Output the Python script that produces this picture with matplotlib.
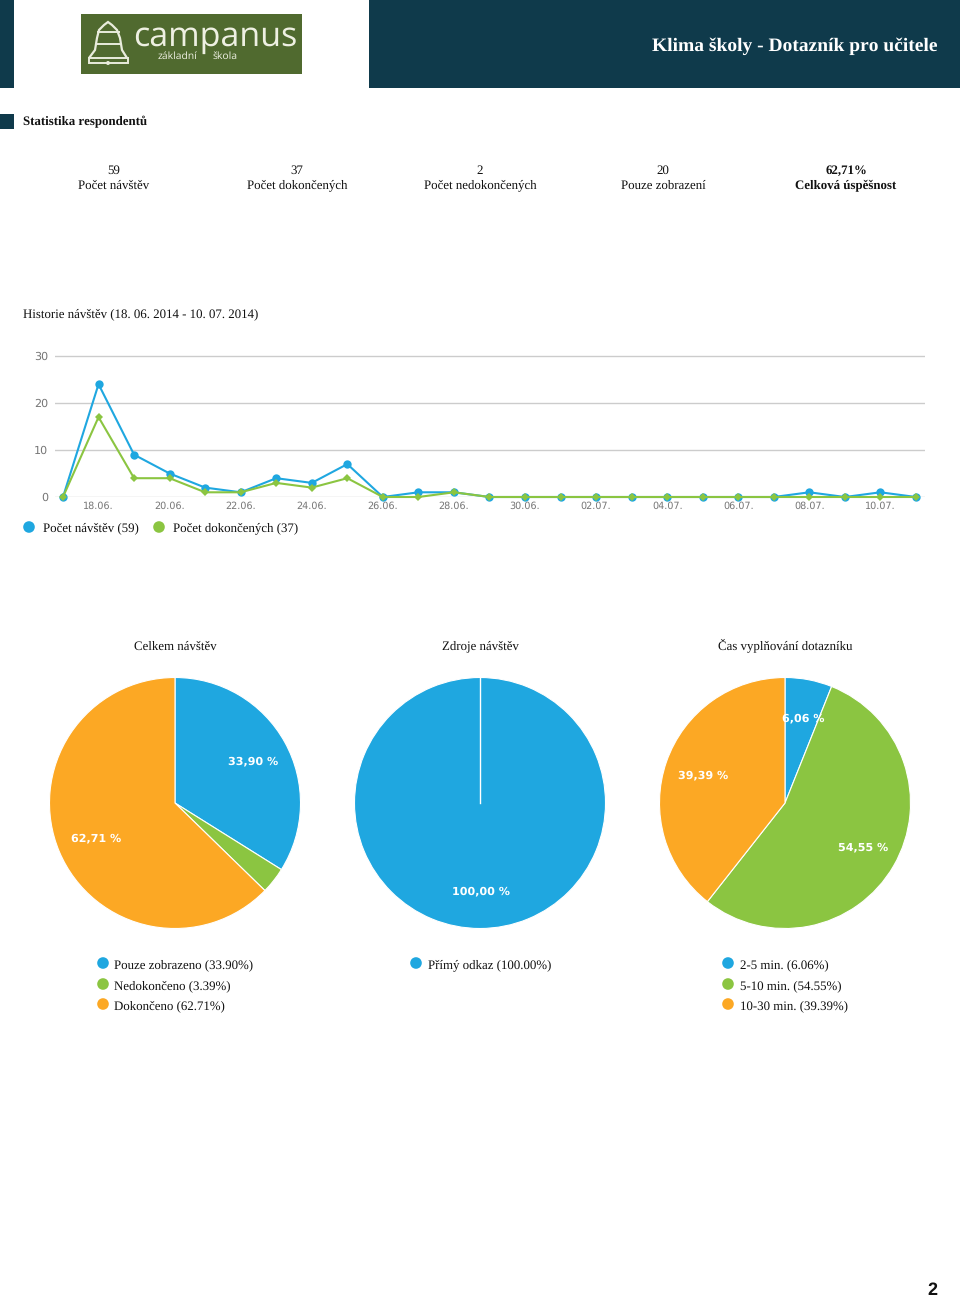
#!/usr/bin/env python3
"""Klima skoly - strana 2 dotazniku: statistika respondentu a grafy."""

import matplotlib
matplotlib.use('Agg')
import matplotlib.pyplot as plt
from matplotlib.patches import Rectangle, Circle, Polygon

plt.rcParams['font.family'] = ['Liberation Serif', 'DejaVu Serif']
plt.rcParams['text.hinting'] = 'none'
plt.rcParams['text.kerning_factor'] = 6

W, H = 960, 1298
DARK = '#0f3a4b'
BLUE = '#1fa7e0'
GREEN = '#8bc541'
ORANGE = '#fca824'
OLIVE = '#506a2f'
LOGO_INK = '#e9ecdc'
TEXT = '#111111'
BODY = 9.3

# data
stat_values = ['59', '37', '2', '20', '62,71%']
stat_labels = ['Počet návštěv', 'Počet dokončených', 'Počet nedokončených',
               'Pouze zobrazení', 'Celková úspěšnost']

days = ['17.06.', '18.06.', '19.06.', '20.06.', '21.06.', '22.06.', '23.06.',
        '24.06.', '25.06.', '26.06.', '27.06.', '28.06.', '29.06.', '30.06.',
        '01.07.', '02.07.', '03.07.', '04.07.', '05.07.', '06.07.', '07.07.',
        '08.07.', '09.07.', '10.07.', '11.07.']
visits = [0, 24, 9, 5, 2, 1, 4, 3, 7, 0, 1, 1, 0, 0, 0, 0, 0, 0, 0, 0, 0, 1, 0, 1, 0]
completed = [0, 17, 4, 4, 1, 1, 3, 2, 4, 0, 0, 1, 0, 0, 0, 0, 0, 0, 0, 0, 0, 0, 0, 0, 0]
y_ticks = [0, 10, 20, 30]

pie_titles = ['Celkem návštěv', 'Zdroje návštěv', 'Čas vyplňování dotazníku']
pie_values = [[33.90, 3.39, 62.71], [100.00], [6.06, 54.55, 39.39]]
pie_names = [['Pouze zobrazeno', 'Nedokončeno', 'Dokončeno'],
             ['Přímý odkaz'],
             ['2-5 min.', '5-10 min.', '10-30 min.']]
pie_colors = [[BLUE, GREEN, ORANGE], [BLUE], [BLUE, GREEN, ORANGE]]
pie_texts = [['33,90 %', '62,71 %'], ['100,00 %'], ['6,06 %', '54,55 %', '39,39 %']]

fig = plt.figure(figsize=(W / 100, H / 100), dpi=100, facecolor='white')


def px_axes(left, top, right, bottom, **kw):
    return fig.add_axes([left / W, 1 - bottom / H, (right - left) / W, (bottom - top) / H], **kw)


# page layer in pixel coordinates
page = px_axes(0, 0, W, H)
page.set_xlim(0, W)
page.set_ylim(H, 0)
page.axis('off')

page.add_patch(Rectangle((0, 0), 14, 88, color=DARK, lw=0))
page.add_patch(Rectangle((369, 0), W - 369, 88, color=DARK, lw=0))
page.text(938, 50.5, 'Klima školy - Dotazník pro učitele', color='white', fontsize=14,
          fontweight='bold', ha='right', va='baseline')

# logo
page.add_patch(Rectangle((81, 14), 221, 60, color=OLIVE, lw=0))
bell = [(89, 58), (95, 50), (97, 38), (99, 30), (104, 25), (108, 22), (112, 25),
        (117, 30), (120, 38), (122, 50), (127, 58)]
page.add_patch(Polygon(bell, closed=False, fill=False, ec=LOGO_INK, lw=1.6))
page.add_patch(Rectangle((89, 58), 39, 5, fill=False, ec=LOGO_INK, lw=1.4))
page.plot([98, 119], [32, 32], color=LOGO_INK, lw=1.4)
page.plot([96, 121], [44, 44], color=LOGO_INK, lw=1.4)
page.add_patch(Circle((108, 63), 2, color=LOGO_INK, lw=0))
page.text(215, 37, 'campanus', color='#eef0e2', fontsize=24.5, family='Open Sans',
          ha='center', va='center')
page.text(177, 56, 'základní', color='#eef0e2', fontsize=7.5, family='Open Sans',
          ha='center', va='center')
page.text(225, 56, 'škola', color='#eef0e2', fontsize=7.5, family='Open Sans',
          ha='center', va='center')

# respondent stats
page.add_patch(Rectangle((0, 114), 14, 15, color=DARK, lw=0))
page.text(23, 125.5, 'Statistika respondentů', color=TEXT, fontsize=BODY,
          fontweight='bold', ha='left', va='baseline')

stat_x = [114, 297, 480, 663, 846]
for i, (x, val, lab) in enumerate(zip(stat_x, stat_values, stat_labels)):
    weight = 'bold' if i == 4 else 'normal'
    page.text(x, 173.5, val, color=TEXT, fontsize=BODY, fontweight=weight, ha='center', va='baseline')
    page.text(x, 188.5, lab, color=TEXT, fontsize=BODY, fontweight=weight, ha='center', va='baseline')

page.text(23, 317.5, 'Historie návštěv (18. 06. 2014 - 10. 07. 2014)', color=TEXT,
          fontsize=BODY, ha='left', va='baseline')

# line chart
ax = px_axes(55, 350, 925, 497)
day_step = 35.54
ax.set_xlim(-8 / day_step, 862 / day_step)
ax.set_ylim(0, 147 / 4.7)
ax.patch.set_alpha(0)
for s in ax.spines.values():
    s.set_visible(False)
ax.set_yticks(y_ticks)
ax.set_xticks(range(1, len(days), 2))
ax.set_xticklabels(days[1::2])
ax.tick_params(axis='x', length=0, labelsize=6.9, labelcolor='#777777', pad=3)
ax.tick_params(axis='y', length=0, labelsize=8, labelcolor='#777777', pad=5)
for lab in ax.get_xticklabels() + ax.get_yticklabels():
    lab.set_family('DejaVu Sans')
ax.grid(axis='y', color='#cccccc', lw=1)
ax.set_axisbelow(True)
xs = list(range(len(days)))
ax.plot(xs, visits, color=BLUE, lw=1.5, marker='o', ms=6, mew=0, clip_on=False)
ax.plot(xs, completed, color=GREEN, lw=1.5, marker='D', ms=4.2, mew=0, clip_on=False)

page.add_patch(Circle((29, 527), 5.8, color=BLUE, lw=0))
page.text(43, 531.5, 'Počet návštěv (59)', color=TEXT, fontsize=BODY, ha='left', va='baseline')
page.add_patch(Circle((159, 527), 5.8, color=GREEN, lw=0))
page.text(173, 531.5, 'Počet dokončených (37)', color=TEXT, fontsize=BODY, ha='left', va='baseline')

# pies
pie_cx = [175, 480, 785]
pie_cy = 803
pie_r = 125.5
text_pos = [[(253, 761), (96, 838)], [(481, 891)], [(803, 718), (863, 847), (703, 775)]]
legend_x = [103, 416, 728]
legend_y = [964, 985, 1005]

for k in range(3):
    pa = px_axes(pie_cx[k] - pie_r, pie_cy - pie_r, pie_cx[k] + pie_r, pie_cy + pie_r)
    pa.pie(pie_values[k], colors=pie_colors[k], startangle=90, counterclock=False, radius=1,
           wedgeprops={'edgecolor': 'white', 'linewidth': 0.8})
    pa.set_xlim(-1, 1)
    pa.set_ylim(-1, 1)
    if len(pie_values[k]) == 1:
        # seam of the full circle
        pa.plot([0, 0], [0, 1], color='white', lw=1)
    page.text(pie_cx[k], 649.5, pie_titles[k], color=TEXT, fontsize=BODY, ha='center', va='baseline')
    for (tx, ty), s in zip(text_pos[k], pie_texts[k]):
        page.text(tx, ty, s, color='white', fontsize=8, fontweight='bold', family='DejaVu Sans',
                  ha='center', va='center', zorder=5)
    for name, val, col, ly in zip(pie_names[k], pie_values[k], pie_colors[k], legend_y):
        page.add_patch(Circle((legend_x[k], ly - 1), 5.8, color=col, lw=0))
        page.text(legend_x[k] + 11.5, ly + 4, f'{name} ({val:.2f}%)', color=TEXT, fontsize=BODY,
                  ha='left', va='baseline')

page.text(932, 1290, '2', color='#111111', fontsize=13, fontweight='bold',
          family='Liberation Sans', ha='center', va='center')

page.set_zorder(3)
page.patch.set_alpha(0)
fig.savefig('out.png', dpi=100)
